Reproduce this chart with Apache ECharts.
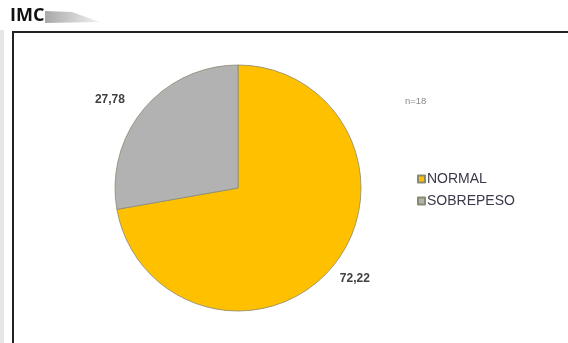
<!DOCTYPE html>
<html><head><meta charset="utf-8">
<script src="https://cdn.jsdelivr.net/npm/echarts@6/dist/echarts.min.js"></script>
<style>html,body{margin:0;padding:0;background:#fff}#c{width:568px;height:343px}</style>
</head><body><div id="c"></div>
<script>
const categories = ["NORMAL", "SOBREPESO"];
const values = [72.22, 27.78];
const colors = ["#FFC000", "#B2B2B2"];
const sampleNote = "n=18";
const title = "IMC";

const labelShift = [[-2, 8], [3, 5]];

const chart = echarts.init(document.getElementById('c'), null, {renderer: 'canvas'});
chart.setOption({
  animation: false,
  backgroundColor: '#fff',
  graphic: [
    {type: 'rect', shape: {x: 0, y: 30, width: 4, height: 313}, style: {fill: '#e6e6e6'}},
    {type: 'polygon', shape: {points: [[45, 11], [72, 12], [100, 22], [45, 23]]},
      style: {fill: new echarts.graphic.LinearGradient(0, 0, 1, 0, [{offset: 0, color: '#a8a8a8'}, {offset: 1, color: '#f2f2f2'}])}},
    {type: 'text', left: 10, top: 7, style: {text: title, font: 'bold 18px "Open Sans", sans-serif', fill: '#111'}},
    {type: 'rect', shape: {x: 13, y: 32, width: 570, height: 320}, style: {fill: 'none', stroke: '#222', lineWidth: 2}},
    {type: 'text', left: 405, top: 96, style: {text: sampleNote, font: '9.5px "Liberation Sans", Arial, sans-serif', fill: '#8a8a8a'}}
  ],
  legend: {
    orient: 'vertical', left: 412, top: 167,
    itemWidth: 7, itemHeight: 7, itemGap: 8,
    icon: 'rect',
    textStyle: {fontFamily: '"Liberation Sans", Arial, sans-serif', fontSize: 14, color: '#3a3a4a', padding: [0, 0, 0, -3]},
    data: categories
  },
  series: [{
    type: 'pie',
    center: [238, 188],
    radius: 123,
    startAngle: 90,
    clockwise: true,
    color: colors,
    itemStyle: {borderColor: '#8a8a70', borderWidth: 0.8},
    label: {
      show: true, position: 'outside',
      formatter: p => p.value.toFixed(2).replace('.', ','),
      fontFamily: '"Liberation Sans", Arial, sans-serif', fontSize: 12, fontWeight: 'bold', color: '#404040'
    },
    labelLine: {show: false, length: 6, length2: 0},
    labelLayout: p => ({dx: labelShift[p.dataIndex][0], dy: labelShift[p.dataIndex][1]}),
    data: categories.map((c, i) => ({
      name: c, value: values[i],
      labelLine: {length: i === 0 ? 6 : 22, length2: 0}
    }))
  }]
});
</script></body></html>
